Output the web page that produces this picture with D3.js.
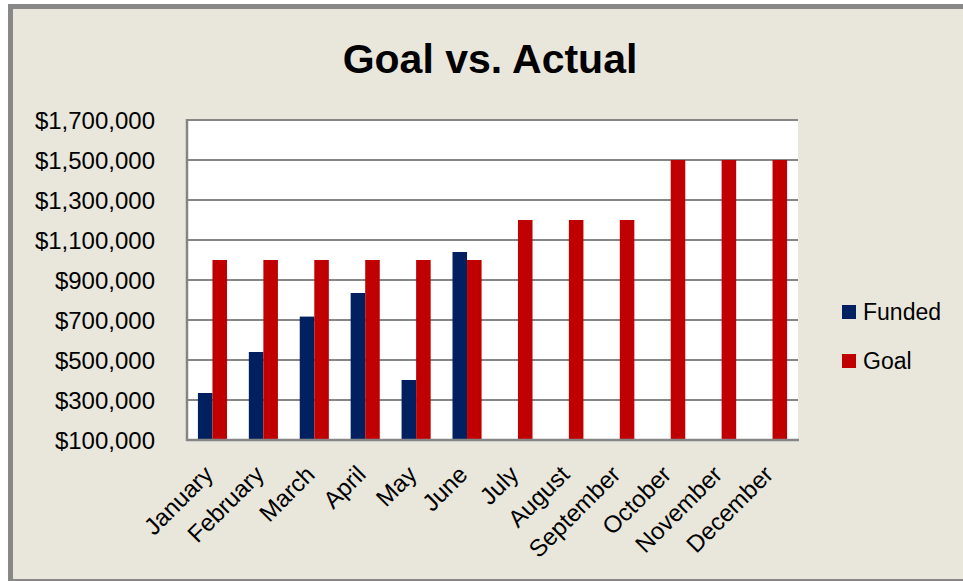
<!DOCTYPE html>
<html>
<head>
<meta charset="utf-8">
<script src="https://cdn.jsdelivr.net/npm/d3@7"></script>
<style>
  html, body { margin: 0; padding: 0; background: #ffffff; }
  svg { display: block; }
  text { font-family: "Liberation Sans", Arial, sans-serif; fill: #000; }
</style>
</head>
<body>
<svg id="chart" width="963" height="581"></svg>
<script>
const months = ["January","February","March","April","May","June","July","August","September","October","November","December"];
const funded = [335000, 540000, 717000, 835000, 400000, 1040000, null, null, null, null, null, null];
const goal = [1000000, 1000000, 1000000, 1000000, 1000000, 1000000, 1200000, 1200000, 1200000, 1500000, 1500000, 1500000];
const seriesNames = ["Funded", "Goal"];
const seriesColors = ["#002060", "#C00000"];
const yTicks = [100000, 300000, 500000, 700000, 900000, 1100000, 1300000, 1500000, 1700000];
const title = "Goal vs. Actual";

const svg = d3.select("#chart");
const W = 963, H = 581;

// chart area background and border
svg.append("rect").attr("x", 0).attr("y", 0).attr("width", W).attr("height", H).attr("fill", "#ffffff");
svg.append("rect")
  .attr("x", 10.5).attr("y", 6.5)
  .attr("width", W + 20).attr("height", 575)
  .attr("fill", "#E9E7DC")
  .attr("stroke", "#888888").attr("stroke-width", 5);

const plot = { left: 187, right: 798, top: 120, bottom: 440 };

const x0 = d3.scaleBand().domain(months).range([plot.left, plot.right]).paddingInner(0).paddingOuter(0);
const x1 = d3.scaleBand().domain(seriesNames).range([0, x0.bandwidth()]).paddingInner(0).paddingOuter(0.75);
const y = d3.scaleLinear().domain([100000, 1700000]).range([plot.bottom, plot.top]);

// plot area
svg.append("rect")
  .attr("x", plot.left).attr("y", plot.top)
  .attr("width", plot.right - plot.left).attr("height", plot.bottom - plot.top)
  .attr("fill", "#ffffff");

// gridlines
svg.append("g").selectAll("line").data(yTicks.filter(d => d > 100000)).join("line")
  .attr("x1", plot.left).attr("x2", plot.right)
  .attr("y1", d => y(d)).attr("y2", d => y(d))
  .attr("stroke", "#868686").attr("stroke-width", 2);

// bars
const data = months.map((m, i) => ({ month: m, values: [funded[i], goal[i]] }));
const groups = svg.append("g").selectAll("g").data(data).join("g")
  .attr("transform", d => `translate(${x0(d.month)},0)`);
groups.selectAll("rect")
  .data(d => d.values.map((v, j) => ({ s: seriesNames[j], v, c: seriesColors[j] })).filter(e => e.v != null))
  .join("rect")
  .attr("x", e => x1(e.s))
  .attr("width", x1.bandwidth())
  .attr("y", e => y(e.v))
  .attr("height", e => y(100000) - y(e.v))
  .attr("fill", e => e.c);

// axes lines
svg.append("line").attr("x1", plot.left).attr("x2", plot.left)
  .attr("y1", plot.top - 1).attr("y2", plot.bottom + 1)
  .attr("stroke", "#868686").attr("stroke-width", 2.5);
svg.append("line").attr("x1", plot.left - 1).attr("x2", plot.right + 1)
  .attr("y1", plot.bottom).attr("y2", plot.bottom)
  .attr("stroke", "#868686").attr("stroke-width", 2.5);

// y axis labels
const yAxis = d3.axisLeft(y).tickValues(yTicks).tickFormat(d3.format("$,")).tickSize(0).tickPadding(32);
const gy = svg.append("g").attr("transform", `translate(${plot.left},0)`).call(yAxis);
gy.select(".domain").remove();
gy.selectAll("text").style("font-size", "24px").style("font-family", "'Liberation Sans', Arial, sans-serif").attr("fill", "#000").attr("dy", "0.36em");

// x axis labels
const xAxis = d3.axisBottom(x0).tickSize(0).tickPadding(0);
const gx = svg.append("g").attr("transform", `translate(0,${plot.bottom})`).call(xAxis);
gx.select(".domain").remove();
gx.selectAll("text")
  .style("font-size", "24px").style("font-family", "'Liberation Sans', Arial, sans-serif")
  .attr("fill", "#000")
  .attr("text-anchor", "end")
  .attr("dy", 0).attr("y", 0)
  .attr("transform", "translate(2,36) rotate(-45)");

// title
svg.append("text").attr("x", 490).attr("y", 73).attr("text-anchor", "middle")
  .style("font-size", "41px").style("font-weight", "bold").text(title);

// legend
const legend = svg.append("g").attr("transform", "translate(842,305)");
seriesNames.forEach((s, i) => {
  const g = legend.append("g").attr("transform", `translate(0,${i * 49})`);
  g.append("rect").attr("width", 14).attr("height", 14).attr("fill", seriesColors[i]);
  g.append("text").attr("x", 21).attr("y", 15).style("font-size", "23px").text(s);
});
</script>
</body>
</html>
